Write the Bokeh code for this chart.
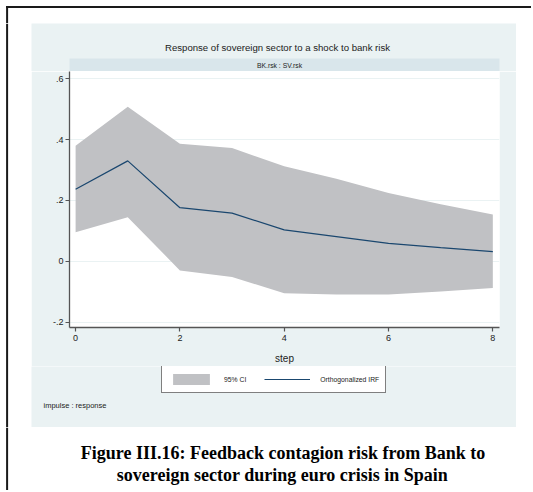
from bokeh.plotting import figure
from bokeh.models import (Range1d, FixedTicker, BoxAnnotation, Label, Legend, LegendItem)
from bokeh.layouts import column, row
from bokeh.embed import file_html
from bokeh.resources import INLINE

# ---- data ----
steps = [0, 1, 2, 3, 4, 5, 6, 7, 8]
irf = [0.237, 0.330, 0.176, 0.158, 0.103, 0.081, 0.059, 0.045, 0.032]
ci_upper = [0.380, 0.508, 0.386, 0.372, 0.312, 0.271, 0.224, 0.187, 0.154]
ci_lower = [0.095, 0.145, -0.030, -0.052, -0.105, -0.109, -0.109, -0.099, -0.088]
y_ticks = [-0.2, 0, 0.2, 0.4, 0.6]
y_tick_labels = ["-.2", "0", ".2", ".4", ".6"]
x_ticks = [0, 2, 4, 6, 8]

title_text = "Response of sovereign sector to a shock to bank risk"
subtitle_text = "BK.rsk : SV.rsk"
x_label = "step"
note_text = "impulse : response"
legend_labels = ["95% CI", "Orthogonalized IRF"]
caption_lines = ["Figure III.16: Feedback contagion risk from Bank to",
                 "sovereign sector during euro crisis in Spain"]

BG = "#EAF2F3"
BAND = "#D9E6EB"
CI_COLOR = "#C0C1C4"
LINE_COLOR = "#1A476F"
FRAME = "#1a1a1a"
TXT = "#222222"
SANS = "Liberation Sans"
SERIF = "Liberation Serif"

# layout pieces (page starts at 0,0)
LEFT_W, MID_W, RIGHT_W = 31, 485, 15
TOP_H, MID_H, CAP_H = 23, 404, 63
HEAD_H, MAIN_H = 48, 295
FOOT_H = MID_H - HEAD_H - MAIN_H
TOTAL_W = LEFT_W + MID_W + RIGHT_W
FR0, FR1 = 5.6, 7.6   # outer frame line position (x and y from top-left)


def panel(w, h, fill):
    f = figure(width=w, height=h, output_backend="svg", toolbar_location=None,
               x_range=Range1d(0, w), y_range=Range1d(0, h),
               x_axis_location=None, y_axis_location=None,
               min_border=0, min_border_left=0, min_border_right=0,
               min_border_top=0, min_border_bottom=0, frame_align=False)
    f.grid.visible = False
    f.outline_line_color = None
    f.background_fill_color = fill
    f.border_fill_color = fill
    return f


def box(f, l, r, b, t, color):
    f.add_layout(BoxAnnotation(left=l, right=r, bottom=b, top=t,
                               left_units="screen", right_units="screen",
                               bottom_units="screen", top_units="screen",
                               fill_color=color, fill_alpha=1, line_color=None,
                               level="underlay"))


def label(f, x, y, text, size, font=SANS, style="normal", align="center", color=TXT):
    f.add_layout(Label(x=x, y=y, x_units="screen", y_units="screen", text=text,
                       text_align=align, text_baseline="middle", text_font=font,
                       text_font_size=size, text_font_style=style, text_color=color))


# top white strip with black frame lines
top = panel(TOTAL_W, TOP_H, "white")
box(top, FR0, TOTAL_W, TOP_H - FR1, TOP_H - FR0, FRAME)
box(top, FR0, FR1, 0, TOP_H - FR0, FRAME)

# left / right white strips
left = panel(LEFT_W, MID_H, "white")
box(left, FR0, FR1, 0, MID_H, FRAME)
right = panel(RIGHT_W, MID_H, "white")

# header (title + subtitle band)
head = panel(MID_W, HEAD_H, BG)
label(head, 246, 24, title_text, "9.6px")
box(head, 38, 468, 0, 13, BAND)
label(head, 248, 6.5, subtitle_text, "6.8px")

# main plot
main = figure(width=MID_W, height=MAIN_H, output_backend="svg", toolbar_location=None,
              x_range=Range1d(-0.117, 8.128), y_range=Range1d(-0.2177, 0.6237),
              min_border_left=38, min_border_right=MID_W - 38 - 430, min_border_top=0,
              min_border_bottom=MAIN_H - 256, frame_align=False)
main.border_fill_color = BG
main.background_fill_color = "white"
main.outline_line_color = None

for ax in (main.xaxis[0], main.yaxis[0]):
    ax.axis_line_color = "#555555"
    ax.axis_line_width = 1.3
    ax.major_tick_line_color = "#555555"
    ax.major_tick_line_width = 1.2
    ax.major_tick_in = 0
    ax.major_tick_out = 4
    ax.minor_tick_line_color = None
    ax.major_label_text_font = SANS
    ax.major_label_text_font_size = "9px"
    ax.major_label_text_color = TXT
    ax.major_label_standoff = 3

main.xaxis.ticker = FixedTicker(ticks=x_ticks)
main.yaxis.ticker = FixedTicker(ticks=y_ticks)
main.yaxis.major_label_overrides = {t: l for t, l in zip(y_ticks, y_tick_labels)}
main.yaxis.major_label_standoff = 2
main.xaxis.axis_label = x_label
main.xaxis.axis_label_text_font = SANS
main.xaxis.axis_label_text_font_style = "normal"
main.xaxis.axis_label_text_font_size = "10px"
main.xaxis.axis_label_text_color = TXT
main.xaxis.axis_label_standoff = 9

main.xgrid.grid_line_color = None
main.ygrid.ticker = FixedTicker(ticks=y_ticks)
main.ygrid.grid_line_color = BG
main.ygrid.grid_line_width = 1

main.varea(x=steps, y1=ci_lower, y2=ci_upper, fill_color=CI_COLOR, fill_alpha=1)
main.line(x=steps, y=irf, line_color=LINE_COLOR, line_width=1.2)

# footer (legend + note)
foot = panel(MID_W, FOOT_H, BG)
ci_key = foot.varea(x=[-100, -99], y1=[-100, -100], y2=[-99, -99], fill_color=CI_COLOR, fill_alpha=1)
ln_key = foot.line(x=[-100, -99], y=[-100, -100], line_color=LINE_COLOR, line_width=1.2)
legend = Legend(items=[LegendItem(label=legend_labels[0], renderers=[ci_key]),
                       LegendItem(label=legend_labels[1], renderers=[ln_key])],
                location=(130, 34), orientation="horizontal",
                glyph_width=46, glyph_height=14, label_height=14,
                label_text_font=SANS, label_text_font_size="6.8px", label_text_color=TXT,
                label_standoff=10, spacing=18, padding=6, margin=0,
                border_line_color="black", border_line_width=1,
                background_fill_color="white", background_fill_alpha=1)
foot.add_layout(legend, "center")
label(foot, 12, 22, note_text, "7.5px", align="left")

# caption
cap = panel(TOTAL_W, CAP_H, "white")
box(cap, FR0, FR1, 0, CAP_H, FRAME)
label(cap, 282.5, CAP_H - 25, caption_lines[0], "18px", font=SERIF, style="bold", color="black")
label(cap, 282, CAP_H - 47, caption_lines[1], "18px", font=SERIF, style="bold", color="black")

middle = row(left, column(head, main, foot, spacing=0), right, spacing=0)
layout = column(top, middle, cap, spacing=0)

open("out.html", "w").write(file_html(layout, INLINE))
